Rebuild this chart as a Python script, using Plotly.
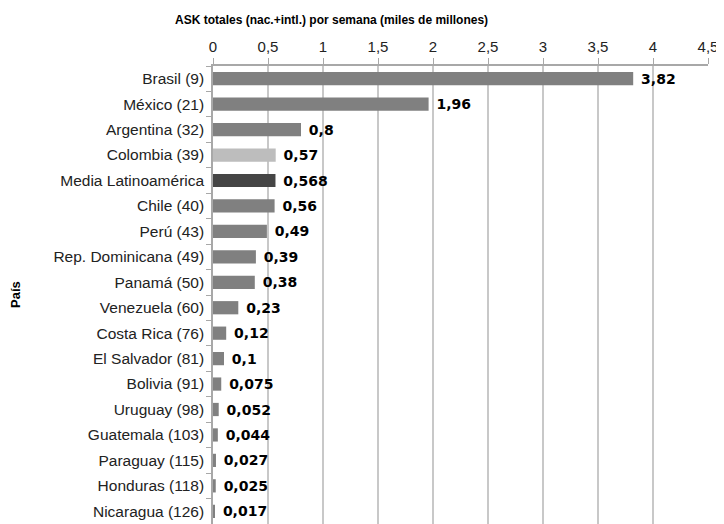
import plotly.graph_objects as go

paises = ["Brasil (9)", "México (21)", "Argentina (32)", "Colombia (39)", "Media Latinoamérica",
          "Chile (40)", "Perú (43)", "Rep. Dominicana (49)", "Panamá (50)", "Venezuela (60)",
          "Costa Rica (76)", "El Salvador (81)", "Bolivia (91)", "Uruguay (98)", "Guatemala (103)",
          "Paraguay (115)", "Honduras (118)", "Nicaragua (126)"]
ask = [3.82, 1.96, 0.8, 0.57, 0.568, 0.56, 0.49, 0.39, 0.38, 0.23, 0.12, 0.1, 0.075, 0.052,
       0.044, 0.027, 0.025, 0.017]
etiquetas = ["\u00a0" + str(v).replace(".", ",") for v in ask]

colores = []
for p in paises:
    if p.startswith("Colombia"):
        colores.append("#bdbdbd")
    elif p.startswith("Media"):
        colores.append("#454545")
    else:
        colores.append("#808080")

fig = go.Figure(go.Bar(
    y=paises, x=ask, orientation="h",
    marker=dict(color=colores, line=dict(width=0)),
    width=0.52,
    text=etiquetas, textposition="outside", cliponaxis=False, constraintext="none",
    textfont=dict(family="DejaVu Sans, Liberation Sans, sans-serif", size=14, color="black", weight="bold"),
))

fig.update_layout(
    width=716, height=516,
    margin=dict(l=205, r=16, t=58, b=0),
    paper_bgcolor="white", plot_bgcolor="white",
    separators=",.",
    showlegend=False,
    xaxis=dict(
        side="top", range=[0, 4.5], dtick=0.5, tick0=0, automargin=False,
        showgrid=True, gridcolor="#c8c8c8", gridwidth=1.5,
        showline=True, linecolor="#a8a8a8", linewidth=1.5,
        ticks="outside", ticklen=6, tickcolor="#a8a8a8",
        tickfont=dict(family="Liberation Sans, Arial, sans-serif", size=15, color="#222"),
        zeroline=False,
    ),
    yaxis=dict(
        autorange="reversed", automargin=False,
        showline=True, linecolor="#a8a8a8", linewidth=1.5,
        ticks="outside", ticklen=5, tickcolor="#a8a8a8", tickson="boundaries",
        ticklabelstandoff=4,
        tickfont=dict(family="Liberation Sans, Arial, sans-serif", size=15.5, color="#222"),
        showgrid=False,
    ),
    annotations=[
        dict(
            text="ASK totales (nac.+intl.) por semana (miles de millones)",
            xref="paper", yref="paper", x=0.24, y=1, yshift=46, xanchor="center", yanchor="middle",
            showarrow=False,
            font=dict(family="Liberation Sans, Arial, sans-serif", size=12, color="black", weight="bold"),
        ),
        dict(
            text="País", textangle=-90,
            xref="paper", yref="paper", x=-0.4, y=0.5, xanchor="center", yanchor="middle",
            showarrow=False,
            font=dict(family="Liberation Sans, Arial, sans-serif", size=13, color="black", weight="bold"),
        ),
    ],
    font=dict(family="Liberation Sans, Arial, sans-serif"),
)

fig.write_html("out.html")
